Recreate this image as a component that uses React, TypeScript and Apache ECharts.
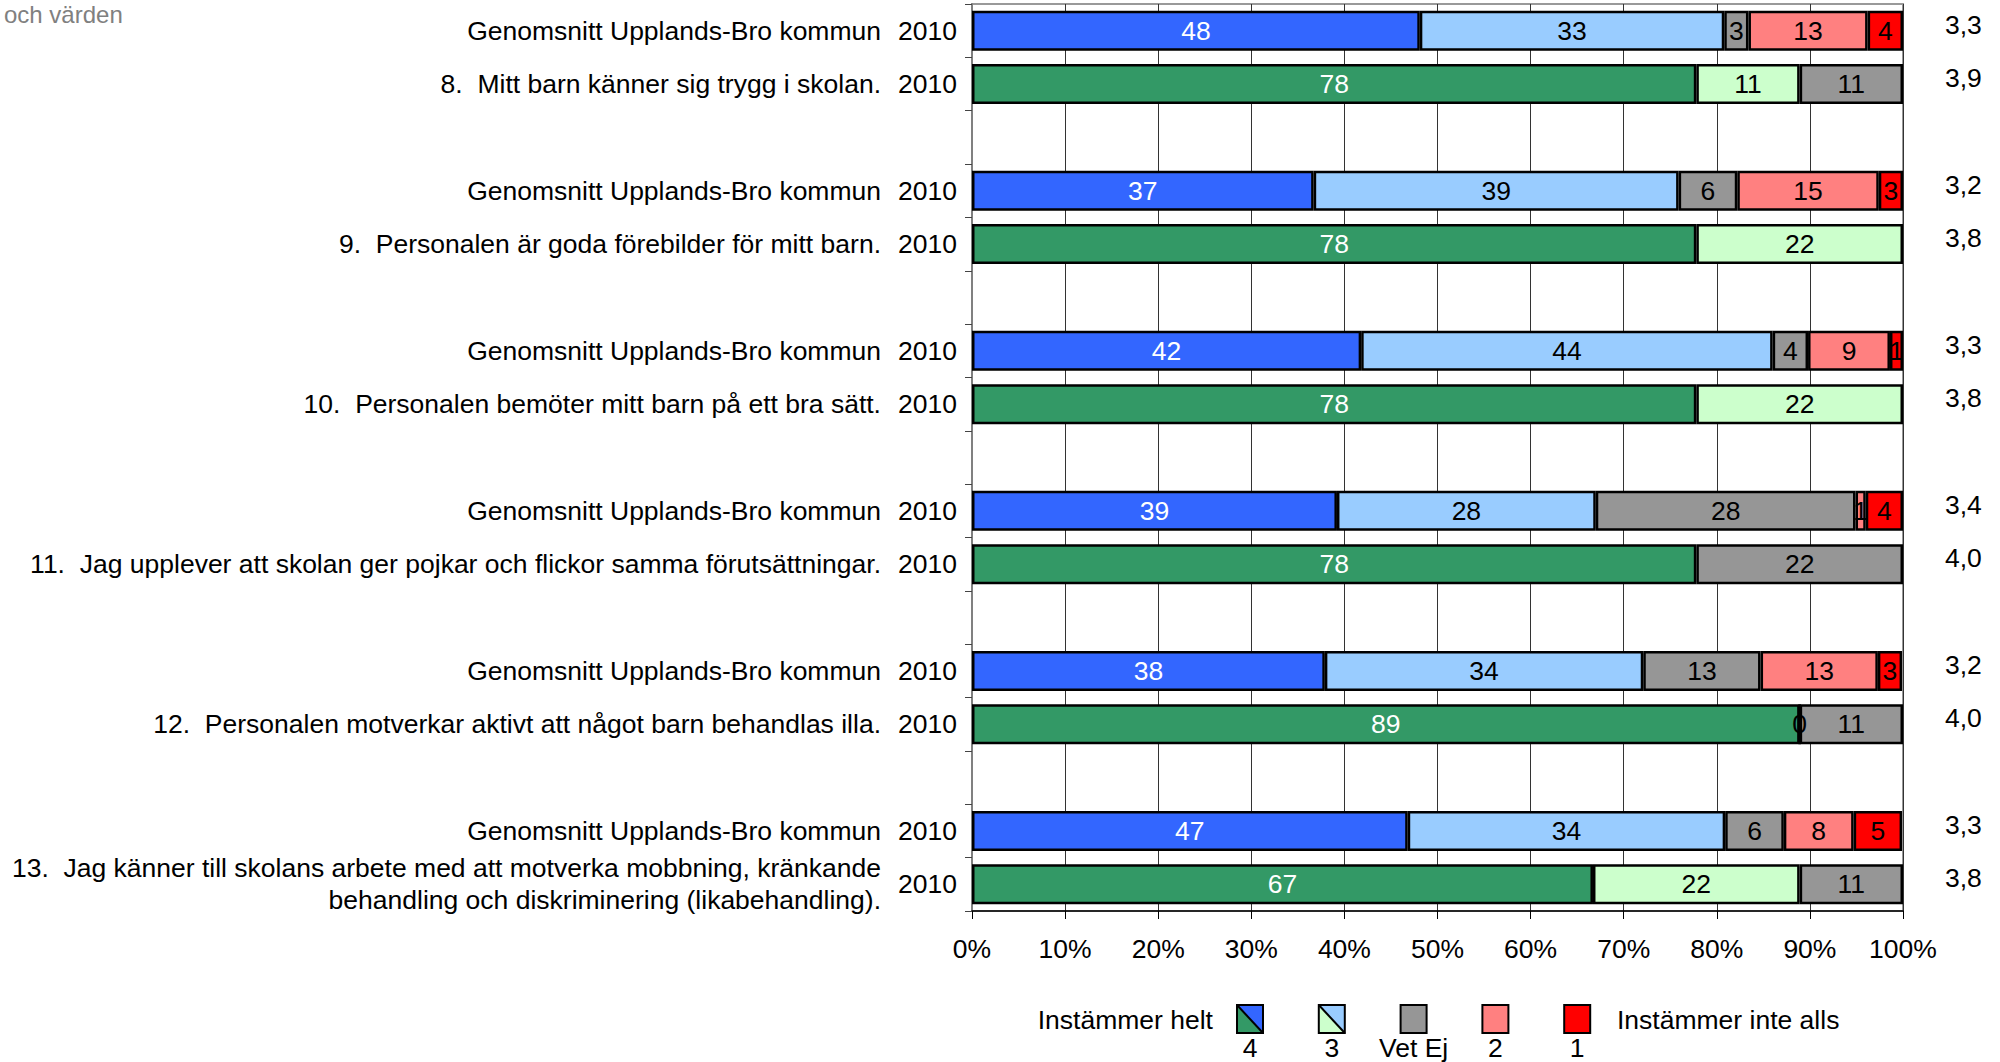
import React, { useEffect, useRef } from 'react';
import * as echarts from 'echarts';

// ---------- data ----------
const questions = [
  '8.  Mitt barn känner sig trygg i skolan.',
  '9.  Personalen är goda förebilder för mitt barn.',
  '10.  Personalen bemöter mitt barn på ett bra sätt.',
  '11.  Jag upplever att skolan ger pojkar och flickor samma förutsättningar.',
  '12.  Personalen motverkar aktivt att något barn behandlas illa.',
  '13.  Jag känner till skolans arbete med att motverka mobbning, kränkande\nbehandling och diskriminering (likabehandling).',
];
const avgName = 'Genomsnitt Upplands-Bro kommun';
const yearName = '2010';

// order of segments: 4, 3, Vet Ej, 2, 1 (percent)
const avg4 = [48.1, 36.7, 41.8, 39.2, 37.9, 46.8];
const avg3 = [32.7, 39.2, 44.2, 27.8, 34.2, 34.1];
const avgVet = [2.6, 6.3, 3.8, 27.9, 12.6, 6.3];
const avg2 = [12.8, 15.2, 8.8, 1.1, 12.6, 7.5];
const avg1 = [3.8, 2.6, 1.4, 4.0, 2.6, 5.2];

const school4 = [77.8, 77.8, 77.8, 77.8, 88.9, 66.7];
const school3: (number | null)[] = [11.1, 22.2, 22.2, null, 0, 22.2];
const schoolVet: (number | null)[] = [11.1, null, null, 22.2, 11.1, 11.1];
const school2: (number | null)[] = [null, null, null, null, null, null];
const school1: (number | null)[] = [null, null, null, null, null, null];

const avgMean = ['3,3', '3,2', '3,3', '3,4', '3,2', '3,3'];
const schoolMean = ['3,9', '3,8', '3,8', '4,0', '4,0', '3,8'];

const legendLabels = ['4', '3', 'Vet Ej', '2', '1'];

// ---------- styles ----------
const FONT = '"Liberation Sans", Arial, sans-serif';
const FS = 26.5;
const avgColors = ['#3366FF', '#99CCFF', '#969696', '#FF8080', '#FF0000'];
const schoolColors = ['#339966', '#CCFFCC', '#969696', '#FF8080', '#FF0000'];
const labelColors = ['#FFFFFF', '#000000', '#000000', '#000000', '#000000'];
const seriesNames = ['4', '3', 'Vet Ej', '2', '1'];

type Slot = { kind: 'avg' | 'school' | 'gap'; q: number };

function buildSlots(): Slot[] {
  const s: Slot[] = [];
  questions.forEach((_, i) => {
    s.push({ kind: 'avg', q: i });
    s.push({ kind: 'school', q: i });
    if (i < questions.length - 1) s.push({ kind: 'gap', q: i });
  });
  return s;
}

export default function App() {
  const ref = useRef<HTMLDivElement>(null);

  useEffect(() => {
    if (!ref.current) return;
    const chart = echarts.init(ref.current, undefined, { renderer: 'svg' });
    const slots = buildSlots();
    const ids = slots.map((_, i) => 'c' + i);
    const yearLabels = slots.map((s) => (s.kind === 'gap' ? '' : yearName));
    const qLabels = slots.map((s) => (s.kind === 'gap' ? '' : s.kind === 'avg' ? avgName : questions[s.q]));
    const meanLabels = slots.map((s) => (s.kind === 'gap' ? '' : s.kind === 'avg' ? avgMean[s.q] : schoolMean[s.q]));

    const avgSets = [avg4, avg3, avgVet, avg2, avg1];
    const schoolSets = [school4, school3, schoolVet, school2, school1];

    const series = seriesNames.map((name, k) => ({
      name,
      type: 'bar',
      stack: 'total',
      yAxisIndex: 0,
      barWidth: 40,
      data: slots.map((s) => {
        if (s.kind === 'gap') return '-';
        const v = s.kind === 'avg' ? avgSets[k][s.q] : schoolSets[k][s.q];
        if (v == null) return '-';
        return {
          value: v,
          itemStyle: { color: s.kind === 'avg' ? avgColors[k] : schoolColors[k] },
        };
      }),
      itemStyle: { borderColor: '#000', borderWidth: 2.5 },
      label: {
        show: true,
        position: 'inside',
        color: labelColors[k],
        fontSize: FS,
        fontFamily: FONT,
        formatter: (p: any) => {
          const v = typeof p.value === 'number' ? p.value : Number(p.value);
          return isNaN(v) ? '' : String(Math.round(v));
        },
      },
      emphasis: { disabled: true },
    }));

    const graphics: any[] = [];
    const txt = (text: string, x: number, y: number, align: string, color = '#000', size = FS) => ({
      type: 'text',
      x,
      y,
      style: {
        text,
        fill: color,
        fontSize: size,
        fontFamily: FONT,
        align,
        textAlign: align,
        verticalAlign: 'middle',
        textVerticalAlign: 'middle',
      },
    });
    graphics.push(txt('och värden', 4, 14, 'left', '#808080', 24));
    graphics.push(txt('Instämmer helt', 1213, 1020, 'right'));
    graphics.push(txt('Instämmer inte alls', 1617, 1020, 'left'));
    const sw = 26;
    const sh = 28;
    const sy = 1005;
    legendLabels.forEach((lab, i) => {
      const x = 1237 + i * 81.8;
      if (i < 2) {
        graphics.push({
          type: 'polygon',
          shape: { points: [[x, sy], [x, sy + sh], [x + sw, sy + sh]] },
          style: { fill: schoolColors[i] },
        });
        graphics.push({
          type: 'polygon',
          shape: { points: [[x, sy], [x + sw, sy], [x + sw, sy + sh]] },
          style: { fill: avgColors[i] },
        });
        graphics.push({
          type: 'line',
          shape: { x1: x, y1: sy, x2: x + sw, y2: sy + sh },
          style: { stroke: '#000', lineWidth: 2 },
        });
      } else {
        graphics.push({
          type: 'rect',
          shape: { x, y: sy, width: sw, height: sh },
          style: { fill: avgColors[i] },
        });
      }
      graphics.push({
        type: 'rect',
        shape: { x, y: sy, width: sw, height: sh },
        style: { fill: 'none', stroke: '#000', lineWidth: 2 },
      });
      graphics.push(txt(lab, x + sw / 2, 1048, 'center'));
    });

    const catAxisBase = {
      type: 'category',
      inverse: true,
      data: ids,
      boundaryGap: true,
    };

    chart.setOption({
      animation: false,
      textStyle: { fontFamily: FONT, fontSize: FS, color: '#000' },
      grid: {
        left: 972,
        right: 97,
        top: 4,
        height: 907,
        containLabel: false,
        show: true,
        borderColor: '#999999',
        borderWidth: 2,
        backgroundColor: 'transparent',
      },
      xAxis: {
        type: 'value',
        min: 0,
        max: 100,
        interval: 10,
        axisLine: { show: true, lineStyle: { color: '#000', width: 1.5 } },
        axisTick: { show: true, length: 8, lineStyle: { color: '#000' } },
        splitLine: { show: true, lineStyle: { color: '#333', width: 1 } },
        axisLabel: {
          formatter: '{value}%',
          margin: 24,
          fontSize: FS,
          fontFamily: FONT,
          color: '#000',
        },
      },
      yAxis: [
        {
          ...catAxisBase,
          position: 'left',
          axisLine: { show: true, lineStyle: { color: '#808080', width: 2 } },
          axisTick: { show: true, length: 7, interval: 0, lineStyle: { color: '#444' } },
          axisLabel: {
            interval: 0,
            margin: 15,
            fontSize: FS,
            fontFamily: FONT,
            color: '#000',
            formatter: (_v: string, i: number) => yearLabels[i],
          },
        },
        {
          ...catAxisBase,
          position: 'left',
          offset: 0,
          axisLine: { show: false },
          axisTick: { show: false },
          splitLine: { show: false },
          axisLabel: {
            interval: 0,
            margin: 91,
            fontSize: FS,
            lineHeight: 32,
            fontFamily: FONT,
            color: '#000',
            formatter: (_v: string, i: number) => qLabels[i],
          },
        },
        {
          ...catAxisBase,
          position: 'right',
          axisLine: { show: false },
          axisTick: { show: false },
          splitLine: { show: false },
          axisLabel: {
            interval: 0,
            margin: 42,
            fontSize: FS,
            fontFamily: FONT,
            color: '#000',
            lineHeight: 12,
            verticalAlign: 'bottom',
            formatter: (_v: string, i: number) => meanLabels[i],
          },
        },
      ],
      series,
      graphic: { elements: graphics },
    });

    return () => {
      chart.dispose();
    };
  }, []);

  return (
    <div
      ref={ref}
      style={{ position: 'absolute', left: 0, top: 0, width: 2000, height: 1062, background: '#fff' }}
    />
  );
}
